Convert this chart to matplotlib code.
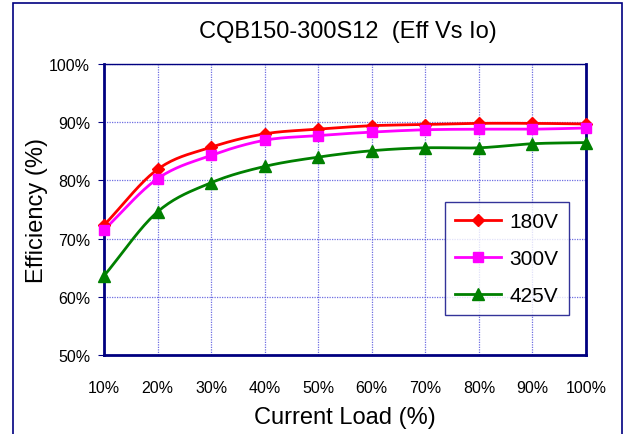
import numpy as np
import matplotlib
matplotlib.use("Agg")
import matplotlib.pyplot as plt
from matplotlib.patches import Rectangle

plt.rcParams['font.family'] = ['Liberation Sans', 'DejaVu Sans']

categories = ["10%", "20%", "30%", "40%", "50%", "60%", "70%", "80%", "90%", "100%"]
eff_180 = [72.3, 81.9, 85.7, 88.0, 88.8, 89.4, 89.6, 89.8, 89.8, 89.7]
eff_300 = [71.5, 80.3, 84.3, 86.9, 87.7, 88.3, 88.7, 88.8, 88.8, 89.0]
eff_425 = [63.6, 74.6, 79.6, 82.4, 84.0, 85.1, 85.6, 85.6, 86.3, 86.5]
y_ticks = [50, 60, 70, 80, 90, 100]


def smooth(x, y, n=20):
    x = np.asarray(x, float); y = np.asarray(y, float)
    px = np.concatenate([[2 * x[0] - x[1]], x, [2 * x[-1] - x[-2]]])
    py = np.concatenate([[2 * y[0] - y[1]], y, [2 * y[-1] - y[-2]]])
    xs, ys = [], []
    t = np.linspace(0, 1, n, endpoint=False)
    for i in range(1, len(px) - 2):
        for P, out in (((px[i - 1], px[i], px[i + 1], px[i + 2]), xs),
                       ((py[i - 1], py[i], py[i + 1], py[i + 2]), ys)):
            a0, a1, a2, a3 = P
            out.extend(0.5 * ((2 * a1) + (-a0 + a2) * t + (2 * a0 - 5 * a1 + 4 * a2 - a3) * t ** 2
                              + (-a0 + 3 * a1 - 3 * a2 + a3) * t ** 3))
    xs.append(x[-1]); ys.append(y[-1])
    return np.array(xs), np.array(ys)


fig = plt.figure(figsize=(6.27, 4.35), dpi=100)
fig.patches.append(Rectangle((13 / 627, -10 / 435), 609 / 627, 441 / 435, transform=fig.transFigure,
                             fill=False, edgecolor='#000080', linewidth=1.2, clip_on=False))
ax = fig.add_axes([104 / 627, 1 - 356 / 435, 482 / 627, 291 / 435])

x = np.arange(len(categories))
series = [("180V", eff_180, 'red', 'D', 6.5), ("300V", eff_300, '#ff00ff', 's', 7.5),
          ("425V", eff_425, 'green', '^', 8)]
for name, vals, col, mk, ms in series:
    sx, sy = smooth(x, vals)
    ax.plot(sx, sy, color=col, lw=2, zorder=3, clip_on=False)
    ax.plot(x, vals, linestyle='none', marker=mk, color=col, markersize=ms, zorder=4, clip_on=False)
    ax.plot([], [], color=col, lw=2, marker=mk, markersize=ms, label=name)

ax.set_xlim(0, len(categories) - 1)
ax.set_ylim(50, 100)
ax.set_xticks(x)
ax.set_xticklabels(categories, fontsize=11.5)
ax.set_yticks(y_ticks)
ax.set_yticklabels([f"{v}%" for v in y_ticks], fontsize=11.5)
ax.grid(True, color='#5555dd', linestyle=(0, (1, 1)), linewidth=0.9, alpha=0.85)
ax.set_axisbelow(True)
for s in ax.spines.values():
    s.set_color('#000080')
    s.set_linewidth(1.0)
ax.spines['left'].set_linewidth(2)
ax.spines['bottom'].set_linewidth(2)
ax.spines['right'].set_linewidth(2)
ax.tick_params(axis='y', length=4, direction='out', color='#000080', pad=6)
ax.tick_params(axis='x', length=0, pad=18)

ax.set_xlabel("Current Load (%)", fontsize=17, labelpad=8)
ax.set_ylabel("Efficiency (%)", fontsize=17, labelpad=1)
fig.text(348 / 627, 1 - 32 / 435, "CQB150-300S12  (Eff Vs Io)", fontsize=17,
         ha='center', va='center')

leg = ax.legend(loc='upper left', bbox_to_anchor=((445 - 104) / 482, (356 - 203) / 291),
                fontsize=15, frameon=True, fancybox=False, handlelength=2.2,
                labelspacing=0.85, borderpad=0.5, handletextpad=0.4, borderaxespad=0)
leg.get_frame().set_edgecolor('#000080')
leg.get_frame().set_linewidth(1.0)

fig.savefig("out.png", dpi=100)
